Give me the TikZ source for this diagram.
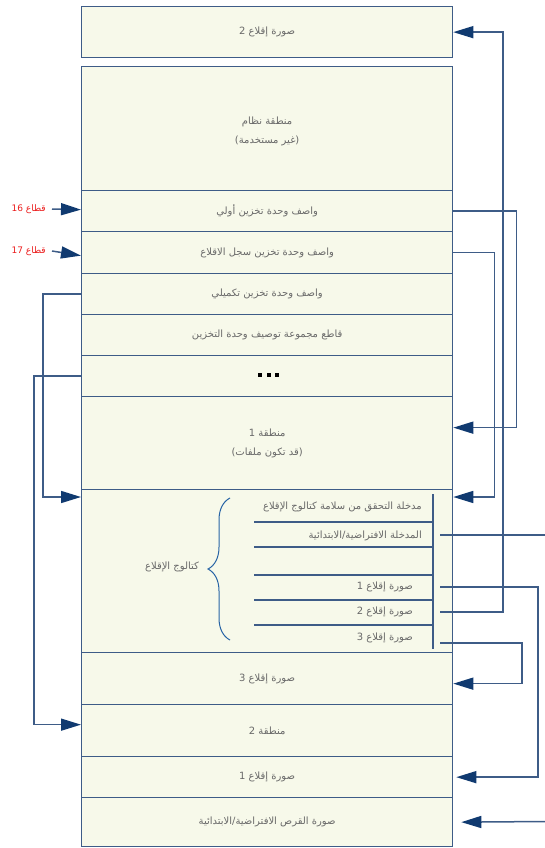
\documentclass[tikz,border=0pt]{standalone}
\usepackage{fontspec}
\newfontfamily\arabicfont[Script=Arabic]{DejaVu Sans}
\TeXXeTstate=1
\usetikzlibrary{arrows.meta,decorations.pathreplacing,positioning}
\definecolor{boxfill}{RGB}{247,249,234}
\definecolor{boxline}{RGB}{62,92,135}
\definecolor{arrnavy}{RGB}{16,58,112}
\definecolor{txtgray}{RGB}{105,105,105}
\definecolor{bracecol}{RGB}{40,100,165}
\definecolor{redlab}{RGB}{235,30,30}
\newcommand{\AR}[1]{{\arabicfont\beginR #1\endR}}
\begin{document}
\begin{tikzpicture}[x=1pt,y=-1pt,
  blk/.style={draw=boxline,fill=boxfill,line width=1.3pt,minimum width=371pt,inner sep=0pt,anchor=north west,
    text=txtgray,font=\fontsize{10}{19}\selectfont,align=center},
  boxtext/.style={text=txtgray,font=\fontsize{10}{19}\selectfont,align=center,inner sep=0pt},
  conn/.style={draw=boxline,line width=1.5pt},
  arr/.style={conn,-{Triangle[length=20pt,width=12pt,fill=arrnavy,color=arrnavy]}},
  entry/.style={text=txtgray,font=\fontsize{10}{12}\selectfont,anchor=east,inner sep=0pt},
  sep/.style={draw=boxline,line width=1.2pt},
  redl/.style={text=redlab,font=\fontsize{9}{11}\selectfont,inner sep=0pt}
]
\useasboundingbox (0,0) rectangle (544,848);
% boxes
\node[blk,minimum height=51pt] (boot2top) at (81,6) {\AR{صورة إقلاع 2}};
\node[blk,minimum height=124pt] (sys) at (81,66) {};
\node[boxtext] (systxt) at ([yshift=-3pt]sys.center) {\AR{منطقة نظام}\\\AR{(غير مستخدمة)}};
\node[blk,minimum height=41pt] (pvd) at (81,190) {\AR{واصف وحدة تخزين أولي}};
\node[blk,minimum height=42pt] (brvd) at (81,231) {\AR{واصف وحدة تخزين سجل الاقلاع}};
\node[blk,minimum height=41pt] (svd) at (81,273) {\AR{واصف وحدة تخزين تكميلي}};
\node[blk,minimum height=41pt] (term) at (81,314) {\AR{قاطع مجموعة توصيف وحدة التخزين}};
\node[blk,minimum height=41pt] (dots) at (81,355) {};
\node[blk,minimum height=93pt] (r1) at (81,396) {\AR{منطقة 1}\\\AR{(قد تكون ملفات)}};
\node[blk,minimum height=163pt] (cat) at (81,489) {};
\node[blk,minimum height=52pt] (b3) at (81,652) {\AR{صورة إقلاع 3}};
\node[blk,minimum height=52pt] (r2) at (81,704) {\AR{منطقة 2}};
\node[blk,minimum height=41pt] (b1) at (81,756) {\AR{صورة إقلاع 1}};
\node[blk,minimum height=49pt] (disk) at (81,797) {\AR{صورة القرص الافتراضية/الابتدائية}};
% ellipsis squares
\foreach \xx in {260,269,277} \fill[black] (\xx-2,373) rectangle (\xx+2,377);
% catalog internals
\coordinate (vtop) at (433,494);
\coordinate (vbot) at (433,649);
\draw[sep] (vtop) -- (vbot);
\foreach \yy in {522,547,575,600,625} \draw[sep] (254,\yy) -- (433,\yy);
\node[entry] (e1) at (422,507) {\AR{مدخلة التحقق من سلامة كتالوج الإقلاع}};
\node[entry] (e2) at (422,536) {\AR{المدخلة الافتراضية/الابتدائية}};
\node[entry] (e4) at (413,587) {\AR{صورة إقلاع 1}};
\node[entry] (e5) at (413,612) {\AR{صورة إقلاع 2}};
\node[entry] (e6) at (413,638) {\AR{صورة إقلاع 3}};
\draw[bracecol,line width=1pt,decorate,decoration={brace,amplitude=22pt}] (230,640) -- (230,498);
\node[text=txtgray,font=\fontsize{10}{12}\selectfont,inner sep=0pt] (catlab) at (172,567) {\AR{كتالوج الإقلاع}};
% entry line starts
\coordinate (c2) at (440,535);
\coordinate (c4) at (440,587);
\coordinate (c5) at (440,612);
\coordinate (c6) at (440,643);
\coordinate (edgeA) at (545,535);
\coordinate (edgeB) at (545,821.5);
% connectors
\draw[arr] (c5) -- ++(63,0) |- (boot2top.east);
\draw[arr] (pvd.east) -- ++(63,0) |- ([yshift=15.5pt]r1.east);
\draw[arr] (brvd.east) -- ++(41,0) |- ([yshift=-8pt]cat.north east);
\draw[arr] (svd.west) -- ++(-38,0) |- ([yshift=-8pt]cat.north west);
\draw[arr] (dots.west) -- ++(-47,0) |- ([yshift=6pt]r2.west);
\draw[conn] (c2) -- (edgeA);
\draw[arr] (edgeB) -- ([xshift=8pt]disk.east);
\draw[arr] (c4) -- ++(98,0) |- ([xshift=3pt]b1.east);
\draw[arr] (c6) -- ++(82,0) |- ([yshift=-5pt]b3.east);
% sector labels
\node[redl,anchor=east] (s16) at (46,209) {\AR{قطاع 16}};
\node[redl,anchor=east] (s17) at (46,251) {\AR{قطاع 17}};
\draw[arr] ([xshift=6pt]s16.east) -- ([yshift=1.5pt]pvd.west);
\draw[arr] ([xshift=6pt]s17.east) -- ([yshift=-3pt]brvd.west);
\end{tikzpicture}
\end{document}
